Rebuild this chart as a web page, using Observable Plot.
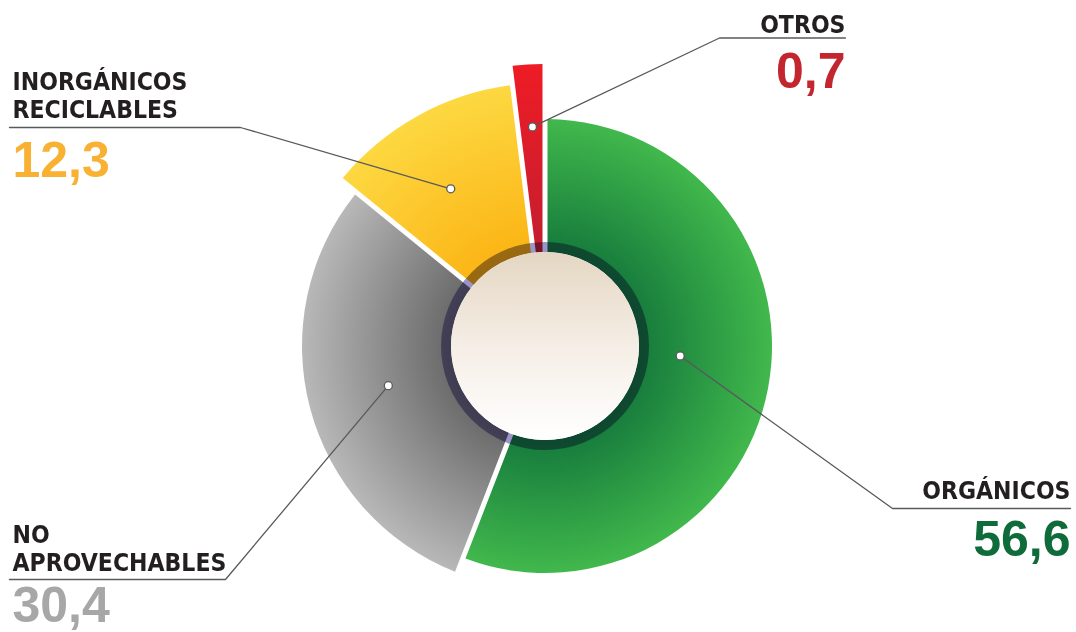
<!DOCTYPE html>
<html><head><meta charset="utf-8">
<script src="https://cdn.jsdelivr.net/npm/d3@7"></script>
<script src="https://cdn.jsdelivr.net/npm/@observablehq/plot@0.6"></script>
<style>html,body{margin:0;padding:0;background:#fff;} #chart svg{display:block;}</style>
</head><body><div id="chart"></div>
<script>
// ---- data ----
const categories = ["ORGÁNICOS", "NO APROVECHABLES", "INORGÁNICOS RECICLABLES", "OTROS"];
const labelLines = ["ORGÁNICOS", "NO\nAPROVECHABLES", "INORGÁNICOS\nRECICLABLES", "OTROS"];
const values = [56.6, 30.4, 12.3, 0.7];
const valueLabels = ["56,6", "30,4", "12,3", "0,7"];

// ---- styles / layout (data units: 1 unit = 100px, pie centre at 0,0) ----
const W = 1076, H = 632;
const innerColors = ["#157a3c", "#686868", "#fbb414", "#c41e30"];
const outerColors = ["#41b84c", "#b8b8b8", "#fdd841", "#ee1c25"];
const valueColors = ["#0f6b39", "#a7a7a7", "#f8b133", "#c3262e"];
const outerR = [2.27, 2.43, 2.63, 2.82];
const innerR = 0.94;
const minShare = 2;            // smallest visible wedge weight
const dotAngle = [94, 256, 329, 356.6];
const dotR = [1.35, 1.62, 1.84, 2.20];
const elbow = [[3.47, -1.62], [-3.20, -2.33], [-3.05, 2.19], [1.74, 3.085]];
const lineEndX = [5.25, -5.36, -5.36, 3.00];
const textX = [5.25, -5.33, -5.33, 3.00];
const labelBase = [-1.52, -2.24, 2.29, 3.14];
const valueBase = [-2.09, -2.75, 1.70, 2.59];
const leftIdx = [1, 2], rightIdx = [0, 3];

const rad = d => d * Math.PI / 180;
const dotX = i => dotR[i] * Math.sin(rad(dotAngle[i]));
const dotY = i => dotR[i] * Math.cos(rad(dotAngle[i]));

const lineData = [];
categories.forEach((c, i) => {
  lineData.push({i, x: dotX(i), y: dotY(i)});
  lineData.push({i, x: elbow[i][0], y: elbow[i][1]});
  lineData.push({i, x: lineEndX[i], y: elbow[i][1]});
});

const pie = d3.pie().sort(null).value(v => Math.max(v, minShare)).startAngle(0).endAngle(2 * Math.PI);
const arcs = pie(values);

function donut(index, scales, vals, dims, context) {
  const cx = scales.x(0), cy = scales.y(0), k = scales.x(1) - scales.x(0);
  const g = d3.create("svg:g");
  const defs = g.append("defs");
  arcs.forEach((a, i) => {
    const gr = defs.append("radialGradient").attr("id", "sg" + i)
      .attr("gradientUnits", "userSpaceOnUse").attr("cx", 0).attr("cy", 0).attr("r", outerR[i] * k);
    gr.append("stop").attr("offset", innerR / outerR[i]).attr("stop-color", innerColors[i]);
    gr.append("stop").attr("offset", 1).attr("stop-color", outerColors[i]);
  });
  const cg = defs.append("linearGradient").attr("id", "cg").attr("x1", 0).attr("y1", 0).attr("x2", 0).attr("y2", 1);
  cg.append("stop").attr("offset", 0).attr("stop-color", "#e4d6c2");
  cg.append("stop").attr("offset", 0.5).attr("stop-color", "#f5eee6");
  cg.append("stop").attr("offset", 1).attr("stop-color", "#ffffff");

  const arcGen = d3.arc()
    .innerRadius(innerR * k)
    .outerRadius(d => outerR[d.index] * k)
    .padAngle(0.02).padRadius(2.5 * k);
  const pg = g.append("g").attr("transform", `translate(${cx},${cy})`);
  arcs.forEach((a, i) => {
    pg.append("path").attr("d", arcGen(a)).attr("fill", `url(#sg${i})`);
  });
  pg.append("circle").attr("r", 0.99 * k).attr("fill", "none")
    .attr("stroke", "#9b94c8").attr("stroke-width", 0.10 * k)
    .style("mix-blend-mode", "multiply");
  pg.append("circle").attr("r", innerR * k).attr("fill", "url(#cg)");
  return g.node();
}

const labelFont = "'Liberation Sans Narrow', 'DejaVu Sans Condensed', 'Open Sans', sans-serif";
const numFont = "'Liberation Sans', Arial, sans-serif";

const chart = Plot.plot({
  width: W, height: H, margin: 0,
  x: {domain: [-5.45, 5.31], axis: null},
  y: {domain: [-2.86, 3.46], axis: null},
  color: {type: "identity"},
  marks: [
    donut,
    Plot.line(lineData, {x: "x", y: "y", z: "i", stroke: "#58595b", strokeWidth: 1.3}),
    Plot.dot(d3.range(4), {x: dotX, y: dotY, r: 4, fill: "white", stroke: "#58595b", strokeWidth: 1.3}),
    Plot.text(leftIdx, {x: i => textX[i], y: i => labelBase[i], text: i => labelLines[i],
      textAnchor: "start", lineAnchor: "bottom", lineHeight: 1.14, fontSize: 24.5, fontWeight: "bold",
      fill: "#231f20", fontFamily: labelFont}),
    Plot.text(rightIdx, {x: i => textX[i], y: i => labelBase[i], text: i => labelLines[i],
      textAnchor: "end", lineAnchor: "bottom", lineHeight: 1.14, fontSize: 24.5, fontWeight: "bold",
      fill: "#231f20", fontFamily: labelFont}),
    Plot.text(leftIdx, {x: i => textX[i], y: i => valueBase[i], text: i => valueLabels[i],
      textAnchor: "start", lineAnchor: "bottom", fontSize: 50, fontWeight: "bold",
      fill: i => valueColors[i], fontFamily: numFont}),
    Plot.text(rightIdx, {x: i => textX[i], y: i => valueBase[i], text: i => valueLabels[i],
      textAnchor: "end", lineAnchor: "bottom", fontSize: 50, fontWeight: "bold",
      fill: i => valueColors[i], fontFamily: numFont})
  ]
});
document.getElementById("chart").appendChild(chart);
</script>
</body></html>
